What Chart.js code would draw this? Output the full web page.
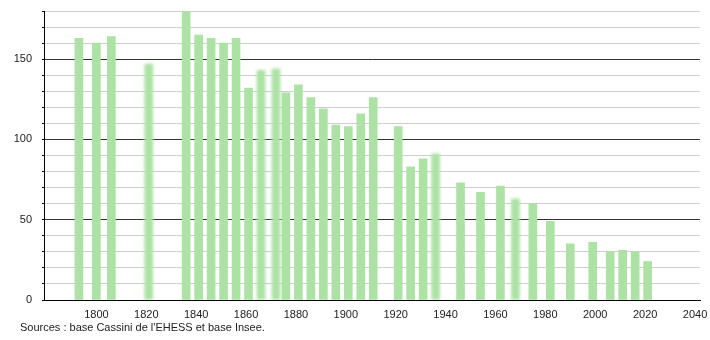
<!DOCTYPE html>
<html>
<head>
<meta charset="utf-8">
<script src="https://cdn.jsdelivr.net/npm/chart.js@4"></script>
<style>
  body { margin: 0; background: #fff; }
  #wrap { position: relative; width: 710px; height: 340px; }
  #source { position: absolute; left: 20px; top: 321px; font: 11px "Liberation Sans", Arial, sans-serif; color: #222; }
</style>
</head>
<body>
<div id="wrap">
  <canvas id="chart" width="710" height="340"></canvas>
  <div id="source">Sources : base Cassini de l'EHESS et base Insee.</div>
</div>
<script>
// census years and population
const years = [1793, 1800, 1806, 1821, 1836, 1841, 1846, 1851, 1856, 1861, 1866, 1872, 1876, 1881, 1886, 1891, 1896, 1901, 1906, 1911, 1921, 1926, 1931, 1936, 1946, 1954, 1962, 1968, 1975, 1982, 1990, 1999, 2006, 2011, 2016, 2021];
const population = [163, 160, 164, 147, 180, 165, 163, 160, 163, 132, 143, 144, 129, 134, 126, 119, 109, 108, 116, 126, 108, 83, 88, 91, 73, 67, 71, 63, 60, 49, 35, 36, 30, 31, 30, 24];
// years drawn with soft (blurred) bars
const softYears = [1821, 1866, 1872, 1936, 1968];

const xTicks = [1800, 1820, 1840, 1860, 1880, 1900, 1920, 1940, 1960, 1980, 2000, 2020, 2040];
const yTicks = [0, 10, 20, 30, 40, 50, 60, 70, 80, 90, 100, 110, 120, 130, 140, 150, 160, 170, 180];

let sharp = [], soft = [];
years.forEach(function (y, i) {
    let p = { x: y, y: population[i] };
    if (softYears.includes(y)) soft.push(p); else sharp.push(p);
});

const barColor = 'rgb(172, 226, 164)';

// blur the soft dataset
const blurPlugin = {
    id: 'blur',
    beforeDatasetDraw(chart, args) {
        if (args.index === 1) { chart.ctx.save(); chart.ctx.filter = 'blur(1.6px)'; }
    },
    afterDatasetDraw(chart, args) {
        if (args.index === 1) chart.ctx.restore();
    }
};

new Chart(document.getElementById('chart'), {
    type: 'bar',
    data: {
        datasets: [
            { data: sharp, backgroundColor: barColor, barThickness: 8 },
            { data: soft, backgroundColor: barColor, barThickness: 8 }
        ]
    },
    options: {
        responsive: false,
        animation: false,
        grouped: false,
        layout: { padding: { top: 11, right: 10, left: 0, bottom: 0 } },
        plugins: { legend: { display: false }, tooltip: { enabled: false } },
        scales: {
            x: {
                type: 'linear',
                offset: false,
                min: 1779,
                max: 2042,
                afterBuildTicks: function (scale) { scale.ticks = xTicks.map(v => ({ value: v })); },
                afterFit: function (scale) { scale.height = 40; scale.paddingLeft = 0; scale.paddingRight = 0; },
                grid: { display: false, offset: false },
                border: { display: true, color: '#000', width: 1 },
                ticks: {
                    color: '#222',
                    font: { family: 'Liberation Sans', size: 11 },
                    padding: 0,
                    maxRotation: 0,
                    callback: v => String(v)
                }
            },
            y: {
                min: 0,
                max: 180,
                afterBuildTicks: function (scale) { scale.ticks = yTicks.map(v => ({ value: v })); },
                afterFit: function (scale) { scale.width = 44; scale.paddingTop = 0; scale.paddingBottom = 0; },
                grid: {
                    color: ctx => (ctx.tick && ctx.tick.value % 50 === 0) ? '#333' : '#cfcfcf',
                    tickColor: '#000',
                    tickLength: ctx => (ctx.tick && ctx.tick.value % 50 === 0) ? 5 : 2,
                    drawTicks: true
                },
                border: { display: true, color: '#000', width: 1 },
                ticks: {
                    color: '#222',
                    font: { family: 'Liberation Sans', size: 11 },
                    padding: 10,
                    autoSkip: false,
                    callback: v => v % 50 === 0 ? v : ''
                }
            }
        }
    },
    plugins: [blurPlugin]
});
</script>
</body>
</html>
